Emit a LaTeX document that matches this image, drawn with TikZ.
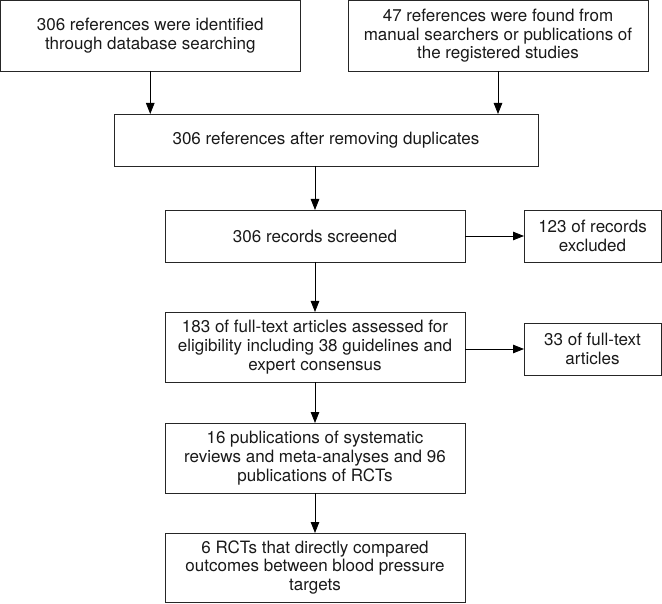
\documentclass[tikz,border=0pt]{standalone}
\usepackage{fontspec}
\setmainfont{TeX Gyre Heros}
\usetikzlibrary{arrows.meta}
\begin{document}
\begin{tikzpicture}[x=1pt,y=-1pt,
  box/.style={draw=black!85, line width=0.8pt, inner sep=0pt, outer sep=0pt, align=center,
    font=\fontsize{17}{18.8}\selectfont, text=black!90},
  arr/.style={-{Triangle[length=11pt,width=8.5pt]}, line width=0.8pt, draw=black}]
\useasboundingbox (0,0) rectangle (662,604);
\node[box, minimum width=299.5pt, minimum height=70.5pt] (a) at (150.25,35.75)
  {306 references were identified\\through database searching};
\node[box, minimum width=300pt, minimum height=70.5pt] (b) at (498,35.75)
  {47 references were found from\\manual searchers or publications of\\the registered studies};
\node[box, minimum width=424pt, minimum height=52pt] (c) at (326,140)
  {306 references after removing duplicates};
\node[box, minimum width=300pt, minimum height=52pt] (d) at (315,236)
  {306 records screened};
\node[box, minimum width=137pt, minimum height=52pt] (e) at (592.5,236)
  {123 of records\\excluded};
\node[box, minimum width=300pt, minimum height=70pt] (f) at (315,347)
  {183 of full-text articles assessed for\\eligibility including 38 guidelines and\\expert consensus};
\node[box, minimum width=137pt, minimum height=52pt] (g) at (592.5,349)
  {33 of full-text\\articles};
\node[box, minimum width=300pt, minimum height=70pt] (h) at (315,458)
  {16 publications of systematic\\reviews and meta-analyses and 96\\publications of RCTs};
\node[box, minimum width=300pt, minimum height=69pt] (i) at (315,567.5)
  {6 RCTs that directly compared\\outcomes between blood pressure\\targets};
\draw[arr] (a.south) -- (a.south |- c.north);
\draw[arr] (b.south) -- (b.south |- c.north);
\draw[arr] (d.north |- c.south) -- (d.north);
\draw[arr] (d.south) -- (f.north);
\draw[arr] (f.south) -- (h.north);
\draw[arr] (h.south) -- (i.north);
\draw[arr] (d.east) -- (e.west);
\draw[arr] (f.east |- g.west) -- (g.west);
\end{tikzpicture}
\end{document}
